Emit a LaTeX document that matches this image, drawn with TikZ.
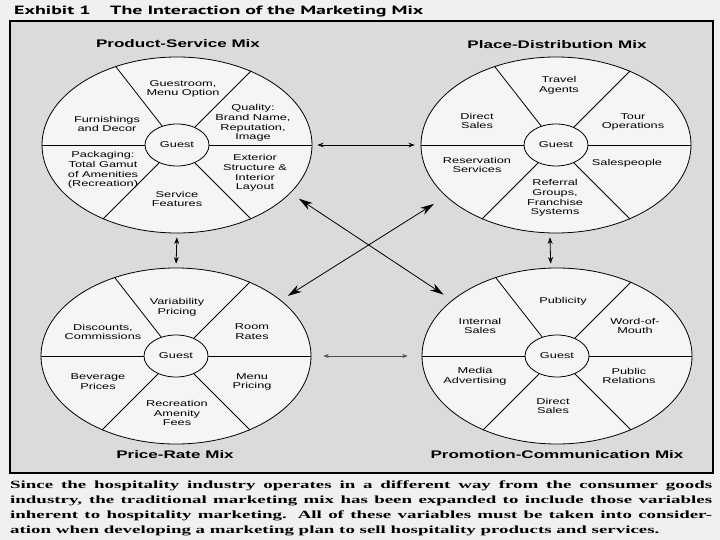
\documentclass[tikz,border=0pt]{standalone}
\usepackage{fontspec}
\setmainfont{Liberation Serif}
\newfontfamily\mixfont[FakeStretch=1.5]{Liberation Sans}
\newfontfamily\titlefont[FakeStretch=1.55]{Liberation Sans}
\newfontfamily\headfont[FakeStretch=1.66]{PT Sans}
\newfontfamily\notefont[FakeStretch=1.72]{Liberation Serif}
\usetikzlibrary{shapes.geometric,arrows.meta}
\tikzset{
  mixring/.style={ellipse, draw, line width=0.8pt, fill=gray!8, minimum width=270pt, minimum height=176pt, inner sep=0pt},
  guestring/.style={ellipse, draw, line width=0.8pt, fill=gray!8, minimum width=64pt, minimum height=42pt, inner sep=0pt, font=\mixfont\fontsize{8.5}{9}\selectfont},
  cell/.style={align=center, inner sep=0pt, font=\mixfont\fontsize{8.5}{9.8}\selectfont},
  mixtitle/.style={inner sep=0pt, font=\titlefont\bfseries\fontsize{11}{13}\selectfont},
  headtxt/.style={inner sep=0pt, font=\headfont\bfseries\fontsize{12}{14}\selectfont},
  bigtip/.style={{Stealth[length=14pt,width=8pt]}-{Stealth[length=14pt,width=8pt]}, line width=0.8pt}
}
\begin{document}
\begin{tikzpicture}[x=1pt, y=-1pt, >=Stealth]
    % 背景与外框
    \path[use as bounding box, fill=gray!12] (0,0) rectangle (720,540);
    \node[headtxt, anchor=base west] (exh) at (14,15) {Exhibit 1};
    \node[headtxt, anchor=base west] (ttl) at (110,15) {The Interaction of the Marketing Mix};
    \draw[line width=1.6pt, fill=gray!28] (10,21) rectangle (713,473);

    % 四个椭圆：中心/名字
    \foreach \cx/\cy/\nm in {177/145/prod, 556/145/place, 176/356/price, 557/356/promo} {
        \node[mixring] (\nm) at (\cx,\cy) {};
        \node[guestring] (g\nm) at (\cx,\cy) {Guest};
        \draw[line width=0.8pt] (\nm.west) -- (g\nm.west) (g\nm.east) -- (\nm.east);
        \foreach \a in {45,128,225,315}
            \draw[line width=0.8pt] (g\nm.\a) -- (\nm.\a);
    }

    % 1. Product-Service Mix
    \node[mixtitle] (prodt) at (178,44) {Product-Service Mix};
    \node[cell] (guestroom) at (183,89) {Guestroom,\\Menu Option};
    \node[cell] (furnish) at (107,124) {Furnishings\\and Decor};
    \node[cell] (quality) at (253,123) {Quality:\\Brand Name,\\Reputation,\\Image};
    \node[cell] (packaging) at (103,170) {Packaging:\\Total Gamut\\of Amenities\\(Recreation)};
    \node[cell] (exterior) at (255,173) {Exterior\\Structure \&\\Interior\\Layout};
    \node[cell] (service) at (177,199) {Service\\Features};

    % 2. Place-Distribution Mix
    \node[mixtitle] (placet) at (557,45) {Place-Distribution Mix};
    \node[cell] (travel) at (559,85) {Travel\\Agents};
    \node[cell] (directp) at (477,121) {Direct\\Sales};
    \node[cell] (tour) at (633,122) {Tour\\Operations};
    \node[cell] (reserv) at (477,165) {Reservation\\Services};
    \node[cell] (salesp) at (627,163) {Salespeople};
    \node[cell] (referral) at (555,198) {Referral\\Groups,\\Franchise\\Systems};

    % 3. Price-Rate Mix
    \node[mixtitle] (pricet) at (175,455) {Price-Rate Mix};
    \node[cell] (variab) at (177,307) {Variability\\Pricing};
    \node[cell] (discount) at (103,332) {Discounts,\\Commissions};
    \node[cell] (room) at (252,332) {Room\\Rates};
    \node[cell] (beverage) at (98,382) {Beverage\\Prices};
    \node[cell] (menu) at (252,382) {Menu\\Pricing};
    \node[cell] (recfees) at (177,413) {Recreation\\Amenity\\Fees};

    % 4. Promotion-Communication Mix
    \node[mixtitle] (promot) at (557,455) {Promotion-Communication Mix};
    \node[cell] (publicity) at (563,301) {Publicity};
    \node[cell] (internal) at (480,326) {Internal\\Sales};
    \node[cell] (word) at (635,326) {Word-of-\\Mouth};
    \node[cell] (media) at (475,376) {Media\\Advertising};
    \node[cell] (public) at (629,376) {Public\\Relations};
    \node[cell] (directm) at (553,406) {Direct\\Sales};

    % 椭圆之间的箭头
    \draw[<->, line width=0.7pt, shorten <=5pt, shorten >=6pt] (prod.east) -- (place.west);
    \draw[<->, line width=0.5pt, gray!60!black, shorten <=12pt, shorten >=14pt] (price.east) -- (promo.west);
    \draw[<->, line width=0.8pt, shorten <=4pt, shorten >=4pt] (prod.south) -- (price.north);
    \draw[<->, line width=0.8pt, shorten <=4pt, shorten >=4pt] (place.266) -- (promo.94);
    \draw[bigtip, shorten <=10pt, shorten >=10pt] (prod.-23) -- (promo.152);
    \draw[bigtip, shorten <=14pt, shorten >=8pt] (place.205) -- (price.28);

    % 底部说明文字
    \node[anchor=north west, inner sep=0pt, text width=702pt, align=justify,
          font=\notefont\bfseries\fontsize{11}{15}\selectfont] (note) at (10,481)
        {Since the hospitality industry operates in a different way from the consumer goods\linebreak
         industry, the traditional marketing mix has been expanded to include those variables\linebreak
         inherent to hospitality marketing. All of these variables must be taken into consider-\linebreak
         ation when developing a marketing plan to sell hospitality products and services.};
\end{tikzpicture}
\end{document}
